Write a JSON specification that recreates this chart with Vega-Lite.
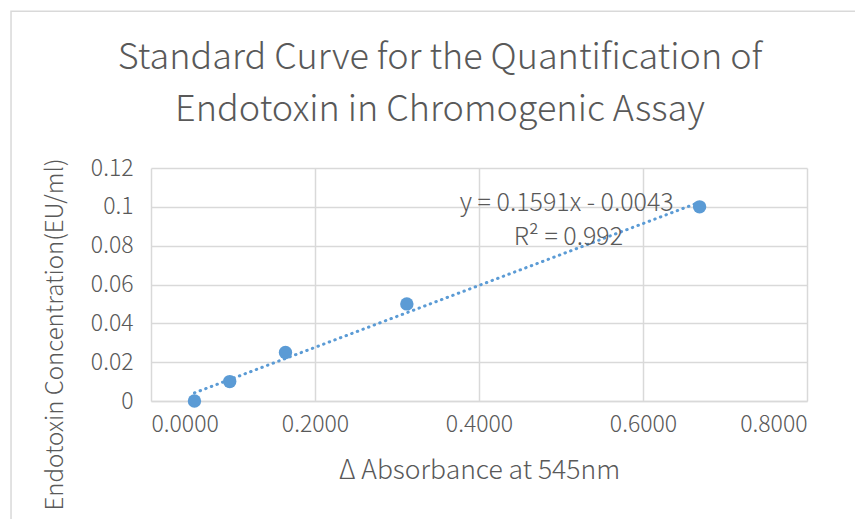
{
  "$schema": "https://vega.github.io/schema/vega-lite/v6.json",
  "autosize": "none",
  "width": 656,
  "height": 233,
  "padding": {"left": 151, "top": 168, "right": 48, "bottom": 118},
  "background": "white",
  "config": {
    "font": "Noto Sans CJK SC",
    "view": {"stroke": null},
    "axis": {"labelColor": "#595959", "titleColor": "#595959", "gridColor": "#d9d9d9", "gridWidth": 1.5, "domainColor": "#d9d9d9", "domainWidth": 1.5, "tickSize": 0, "labelFontSize": 23, "titleFontWeight": 300, "labelFontWeight": 300, "labelFont": "Noto Sans CJK SC", "titleFont": "Noto Sans CJK SC", "labelOverlap": false}
  },
  "title": {
    "text": ["Standard Curve for the Quantification of", "Endotoxin in Chromogenic Assay"],
    "fontSize": 36,
    "fontWeight": 300,
    "color": "#595959",
    "anchor": "middle",
    "frame": "group",
    "dx": -39,
    "offset": -146,
    "baseline": "alphabetic",
    "lineHeight": 52,
    "font": "Noto Sans CJK SC"
  },
  "datasets": {
    "points": [
      {"absorbance": 0.053, "concentration": 0.0},
      {"absorbance": 0.096, "concentration": 0.01},
      {"absorbance": 0.164, "concentration": 0.025},
      {"absorbance": 0.312, "concentration": 0.05},
      {"absorbance": 0.669, "concentration": 0.1}
    ],
    "labels": [
      {"absorbance": 0.507, "concentration": 0.102, "label": "y = 0.1591x - 0.0043"},
      {"absorbance": 0.509, "concentration": 0.0845, "label": "R² = 0.992"}
    ],
    "frame": [
      {"x1": -0.1707, "x2": 1.2, "y1": 0.2007, "y2": -0.1}
    ]
  },
  "encoding": {
    "x": {
      "field": "absorbance", "type": "quantitative",
      "scale": {"domain": [0, 0.8], "nice": false},
      "axis": {"values": [0, 0.2, 0.4, 0.6, 0.8], "format": ".4f", "title": "Δ Absorbance at 545nm", "titleFontSize": 26.5, "labelPadding": 12, "titlePadding": 21}
    },
    "y": {
      "field": "concentration", "type": "quantitative",
      "scale": {"domain": [0, 0.12], "nice": false},
      "axis": {"values": [0, 0.02, 0.04, 0.06, 0.08, 0.1, 0.12], "title": "Endotoxin Concentration(EU/ml)", "titleFontSize": 24, "labelPadding": 18, "domain": false, "titleX": -84, "titleY": 166, "titleAlign": "center", "labelExpr": "datum.value === 0 ? '0' : format(datum.value, '.2~f')"}
    }
  },
  "layer": [
    {
      "data": {"name": "frame"},
      "mark": {"type": "rect", "fill": null, "stroke": "#d9d9d9", "strokeWidth": 1.5, "clip": false},
      "encoding": {
        "x": {"field": "x1", "type": "quantitative"},
        "x2": {"field": "x2"},
        "y": {"field": "y1", "type": "quantitative"},
        "y2": {"field": "y2"}
      }
    },
    {
      "data": {"name": "points"},
      "transform": [{"regression": "concentration", "on": "absorbance", "method": "linear"}],
      "mark": {"type": "line", "color": "#5b9bd5", "strokeWidth": 3, "strokeDash": [0.5, 5.5], "strokeCap": "round"}
    },
    {
      "data": {"name": "points"},
      "mark": {"type": "circle", "color": "#5b9bd5", "opacity": 1, "size": 180}
    },
    {
      "data": {"name": "labels"},
      "mark": {"type": "text", "color": "#595959", "fontSize": 25, "fontWeight": 300, "align": "center", "baseline": "middle"},
      "encoding": {
        "text": {"field": "label"}
      }
    }
  ]
}
